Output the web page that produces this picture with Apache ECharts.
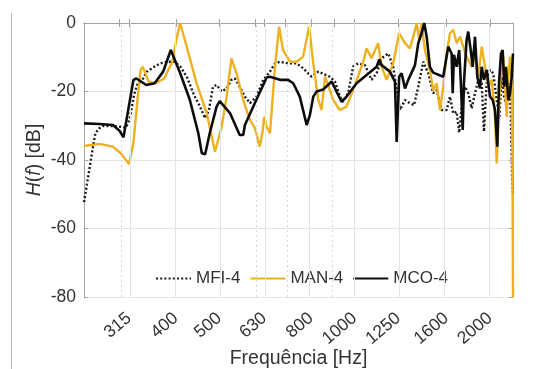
<!DOCTYPE html>
<html><head><meta charset="utf-8">
<script src="https://cdn.jsdelivr.net/npm/echarts@6/dist/echarts.min.js"></script>
<style>html,body{margin:0;padding:0;background:#fff}#c{width:557px;height:369px}</style>
</head><body><div id="c"></div>
<script>
// X tick labels (Hz) and extra (minor) grid lines
const tickHz = [315, 400, 500, 630, 800, 1000, 1250, 1600, 2000];
const minorHz = [300, 600, 700, 900];
const yTicks = [-80, -60, -40, -20, 0];
const seriesNames = ['MFI-4', 'MAN-4', 'MCO-4'];

// MFI-4 (dotted black)
const freqMFI = [250,256.5,261,265,270,275,291,301,310,316,323,328,337,345,358,369,383,397,410,425,439,449,465,474,484,493,506,519,532,541,555,570,585,605,626,648,665,682,711,743,768,802,830,881,904,927,943,967,992,1018,1054,1090,1119,1148,1188,1218,1244,1261,1294,1327,1355,1385,1421,1458,1495,1522,1561,1602,1629,1657,1686,1708,1730,1759,1789,1821,1852,1884,1917,1939,1966,2000,2034,2070,2098,2124,2149,2179,2208,2224,2240,2250];
const dbMFI = [-52.3,-43.4,-37.1,-32.2,-30.8,-30.1,-30.1,-30.3,-30.5,-28,-21,-18.1,-16.6,-14.2,-12.8,-11.8,-11.3,-11.3,-12.8,-16.2,-21,-23.4,-27.8,-25.4,-18.6,-18.1,-20,-19.1,-16.6,-16.2,-18.6,-21.5,-23.4,-21.5,-16.6,-14.2,-11.8,-11.3,-11.8,-11.8,-13.2,-15.7,-14.2,-15.7,-17.1,-21.5,-23,-20.5,-12.8,-11.8,-12.3,-16.6,-14.7,-10.3,-8.9,-12.8,-20.5,-25.4,-22.5,-23.4,-24,-18.6,-11.3,-14.7,-20.5,-19.6,-25.4,-25.4,-21.5,-26.4,-25.9,-32,-24.4,-18.6,-20.5,-24.9,-20.5,-16.6,-17.6,-31.7,-17.6,-13.7,-14.7,-22.5,-27.4,-15.7,-21.5,-24.4,-17.6,-26.4,-45,-50];

// MAN-4 (orange)
const freqMAN = [250,271,290,303,315,322,329,334,338,348,361,377,393,401,409,423,445,469,489,506,519,532,546,565,585,600,615,624,629,637,648,665,679,693,718,743,768,792,809,830,844,859,873,896,927,959,992,1045,1063,1090,1128,1148,1178,1218,1256,1294,1327,1350,1374,1392,1409,1433,1470,1495,1522,1548,1574,1602,1629,1657,1686,1715,1744,1774,1821,1852,1884,1917,1949,1983,2018,2052,2070,2105,2141,2179,2197,2216,2235,2245,2250];
const dbMAN = [-35.9,-35.3,-36.1,-38.3,-41.2,-35,-22,-13.7,-12.8,-17.1,-17.6,-16.2,-11.3,-5,0,-6.9,-17.6,-26.4,-37.6,-30.3,-21.5,-10.3,-14.7,-22.5,-28.3,-30.7,-36.1,-31.7,-27.4,-30.3,-32.2,-12.8,-1.1,-7.9,-11.3,-11.3,-9.8,-1.1,-11.8,-22.5,-25.4,-15.7,-18.1,-22.5,-25.4,-24.4,-19.6,-11.3,-7.4,-10.3,-5.9,-12.8,-16.6,-11.8,-3,-5.9,-7.4,-4,-0.1,-5,-0.1,-7.9,-13.7,-19.6,-17.6,-25.4,-18.6,-8.9,-3,-2,-5.9,-4,-6.9,-9.8,-12.8,-8.9,-15.7,-6.9,-12.8,-18.6,-16.6,-27.4,-41,-17.6,-9.8,-27.4,-15.7,-9.8,-17.6,-45.8,-80];

// MCO-4 (solid black)
const freqMCO = [250,271,290,300,306,322,327,344,359,375,390,409,430,449,457,465,476,493,501,528,555,565,570,595,637,648,682,711,730,755,782,795,809,823,851,889,911,935,959,1010,1063,1119,1134,1148,1198,1229,1240,1256,1272,1294,1316,1362,1385,1409,1428,1446,1470,1495,1574,1588,1615,1643,1652,1663,1686,1708,1723,1739,1750,1774,1789,1812,1830,1852,1874,1900,1917,1939,1966,2000,2028,2052,2076,2094,2116,2134,2152,2171,2197,2216,2235,2250];
const dbMCO = [-29.3,-29.5,-29.8,-31.5,-33.4,-16.6,-16.2,-18.1,-17.6,-14.2,-7.9,-14.6,-22.5,-32.2,-38,-38.3,-32.2,-24.4,-22.8,-26.3,-32.7,-32.7,-29.8,-24.4,-15.9,-15.7,-16.6,-16.6,-17.6,-21.5,-29.8,-26.9,-21.5,-20,-19.4,-17.1,-20,-23,-21.5,-17.6,-15.2,-12.8,-10.6,-12.3,-14.2,-17.1,-34.7,-15.7,-14.7,-19.1,-16.6,-12.3,-5.9,-3,0,-4,-12.8,-14.5,-15.7,-16.2,-6.9,-8.9,-20.5,-9.3,-12.8,-7.9,-17.6,-31.2,-17.6,-5,-2.5,-7.9,-12.8,-4,-15.7,-19.1,-12.8,-16.6,-13.7,-21.5,-22.5,-25.4,-36.1,-17.6,-8.9,-7.9,-18.6,-12.8,-22.5,-20.5,-15.7,-8.9];

const xMinHz = 250, xMaxHz = 2250;
const L = Math.log10;
const pairs = (f, d) => f.map((v, i) => [L(v), d[i]]);
const axisColor = '#a3a3a3';
const textColor = '#333333';
const font = '"Liberation Sans", Arial, sans-serif';
const allTicks = tickHz.concat(minorHz).sort((a, b) => a - b).map(L);

const gridLines = tickHz.map(h => ({ xAxis: L(h), lineStyle: { color: '#e4e4e4', type: 'solid', width: 1 } }))
  .concat(minorHz.map(h => ({ xAxis: L(h), lineStyle: { color: '#d8d8d8', type: [2, 3], width: 1 } })));

const chart = echarts.init(document.getElementById('c'), null, { renderer: 'canvas' });
chart.setOption({
  animation: false,
  backgroundColor: '#ffffff',
  textStyle: { fontFamily: font },
  graphic: [{ type: 'line', shape: { x1: 11.5, y1: 13, x2: 11.5, y2: 369 }, style: { stroke: '#b8b8b8', lineWidth: 1 } }],
  grid: { left: 84, right: 44, top: 23, bottom: 72, containLabel: false, outerBoundsMode: 'none' },
  xAxis: [{
    type: 'value', min: L(xMinHz), max: L(xMaxHz), position: 'bottom',
    name: 'Frequência [Hz]', nameLocation: 'middle', nameGap: 52, nameMoveOverlap: false,
    nameTextStyle: { fontSize: 19.5, color: textColor, fontFamily: font },
    axisLine: { show: true, lineStyle: { color: axisColor } },
    axisTick: { show: true, inside: true, length: 4, customValues: allTicks, lineStyle: { color: axisColor } },
    axisLabel: { customValues: tickHz.map(L), rotate: 40, margin: 19, fontSize: 17.5, color: textColor, fontFamily: font,
      formatter: v => String(Math.round(Math.pow(10, v))) },
    splitLine: { show: false }
  }, {
    type: 'value', min: L(xMinHz), max: L(xMaxHz), position: 'top',
    axisLine: { show: true, lineStyle: { color: axisColor } },
    axisTick: { show: true, inside: true, length: 4, customValues: allTicks, lineStyle: { color: axisColor } },
    axisLabel: { show: false }, splitLine: { show: false }
  }],
  yAxis: [{
    type: 'value', min: yTicks[0], max: yTicks[yTicks.length - 1], interval: 20, position: 'left',
    name: '{i|H}({i|f}) [dB]', nameLocation: 'middle', nameRotate: 90, nameGap: 39, nameMoveOverlap: false,
    nameTextStyle: { fontSize: 19.5, color: textColor, fontFamily: font,
      rich: { i: { fontStyle: 'italic', fontSize: 19.5, color: textColor, fontFamily: font } } },
    axisLine: { show: true, lineStyle: { color: axisColor } },
    axisTick: { show: true, inside: true, length: 4, lineStyle: { color: axisColor } },
    axisLabel: { fontSize: 17.5, color: textColor, margin: 8, fontFamily: font },
    splitLine: { show: true, lineStyle: { color: '#e4e4e4' } }
  }, {
    type: 'value', min: yTicks[0], max: yTicks[yTicks.length - 1], interval: 20, position: 'right',
    axisLine: { show: true, lineStyle: { color: axisColor } },
    axisTick: { show: true, inside: true, length: 4, lineStyle: { color: axisColor } },
    axisLabel: { show: false }, splitLine: { show: false }
  }],
  legend: {
    data: seriesNames, left: 155, top: 270, itemWidth: 35, itemHeight: 14, itemGap: 9, padding: 0,
    itemStyle: { opacity: 0 },
    textStyle: { fontSize: 17, color: textColor, fontFamily: font }
  },
  series: [
    { name: '_grid', type: 'line', data: [], z: 1, silent: true,
      markLine: { silent: true, symbol: ['none', 'none'], label: { show: false }, animation: false, data: gridLines } },
    { name: seriesNames[0], type: 'line', data: pairs(freqMFI, dbMFI), showSymbol: false, symbol: 'none', z: 3,
      lineStyle: { color: '#1a1a1a', width: 2.4, type: [2, 2.2] }, itemStyle: { color: '#1a1a1a' } },
    { name: seriesNames[1], type: 'line', data: pairs(freqMAN, dbMAN), showSymbol: false, symbol: 'none', z: 4,
      lineStyle: { color: '#EDB120', width: 2.4 }, itemStyle: { color: '#EDB120' } },
    { name: seriesNames[2], type: 'line', data: pairs(freqMCO, dbMCO), showSymbol: false, symbol: 'none', z: 5,
      lineStyle: { color: '#0d0d0d', width: 2.6 }, itemStyle: { color: '#0d0d0d' } }
  ]
});
</script>
</body></html>
